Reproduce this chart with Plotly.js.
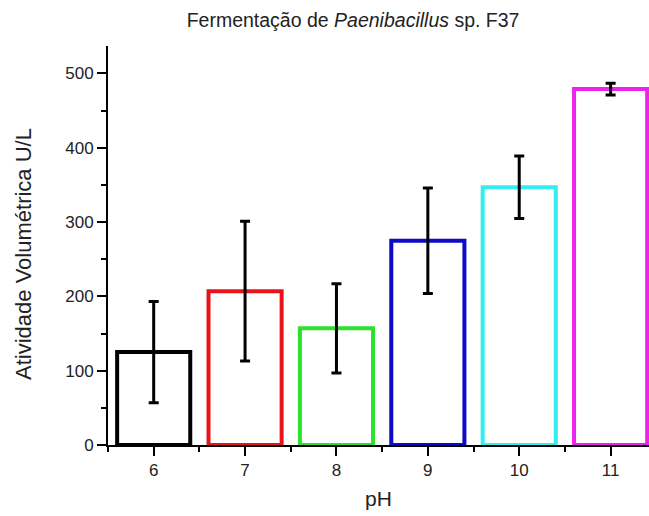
<!DOCTYPE html>
<html>
<head>
<meta charset="utf-8">
<script src="https://cdn.plot.ly/plotly-3.0.1.min.js"></script>
<style>html,body{margin:0;padding:0;background:#fff;}#chart{width:649px;height:516px;}</style>
</head>
<body>
<div id="chart"></div>
<script>
var phValues = [6, 7, 8, 9, 10, 11];
var activity = [125, 207, 157, 275, 347, 479];
var errors = [68, 94, 60, 71, 42, 8];
var barColors = ['#000000', '#e8141a', '#2ee02e', '#0c0cc8', '#33eef0', '#ee22ee'];
var tickLabels = ['6', '7', '8', '9', '10', '11'];

var trace = {
  type: 'bar',
  x: phValues,
  y: activity,
  width: 0.8,
  marker: {color: 'rgba(255,255,255,0)', line: {color: barColors, width: 4}},
  error_y: {type: 'data', array: errors, visible: true, color: '#000', thickness: 3, width: 5},
  hoverinfo: 'x+y'
};

var font = 'Liberation Sans, Arial, sans-serif';
var layout = {
  width: 649, height: 516,
  margin: {l: 108, r: 0, t: 46, b: 71},
  paper_bgcolor: '#fff', plot_bgcolor: '#fff',
  showlegend: false,
  font: {family: font, color: '#222'},
  title: {text: 'Fermentação de <i>Paenibacillus</i> sp. F37', font: {size: 19.5, family: font, color: '#222'},
          x: 0.544, xanchor: 'center', y: 0.961, yanchor: 'middle'},
  xaxis: {
    range: [5.5, 11.42], showgrid: false, zeroline: false,
    showline: true, linecolor: '#000', linewidth: 2,
    tickmode: 'array', tickvals: phValues, ticktext: tickLabels,
    ticks: 'outside', ticklen: 9, tickwidth: 2, tickcolor: '#000',
    tickfont: {size: 17, family: font, color: '#222'},
    minor: {tickmode: 'linear', tick0: 5.5, dtick: 1, ticks: 'outside', ticklen: 5, tickwidth: 2, tickcolor: '#000'},
    title: {text: 'pH', font: {size: 21, family: font, color: '#222'}, standoff: 12}
  },
  yaxis: {
    range: [0, 537], showgrid: false, zeroline: false,
    showline: true, linecolor: '#000', linewidth: 2,
    tick0: 0, dtick: 100,
    ticks: 'outside', ticklen: 9, tickwidth: 2, tickcolor: '#000',
    tickfont: {size: 17, family: font, color: '#222'},
    minor: {dtick: 50, ticks: 'outside', ticklen: 5, tickwidth: 2, tickcolor: '#000'}
  },
  annotations: [{
    text: 'Atividade Volumétrica U/L', textangle: -90, showarrow: false,
    xref: 'paper', yref: 'paper', x: -0.1553, y: 0.4787, xanchor: 'center', yanchor: 'middle',
    font: {size: 22, family: font, color: '#222'}
  }]
};

Plotly.newPlot('chart', [trace], layout, {staticPlot: true, displayModeBar: false});
</script>
</body>
</html>
